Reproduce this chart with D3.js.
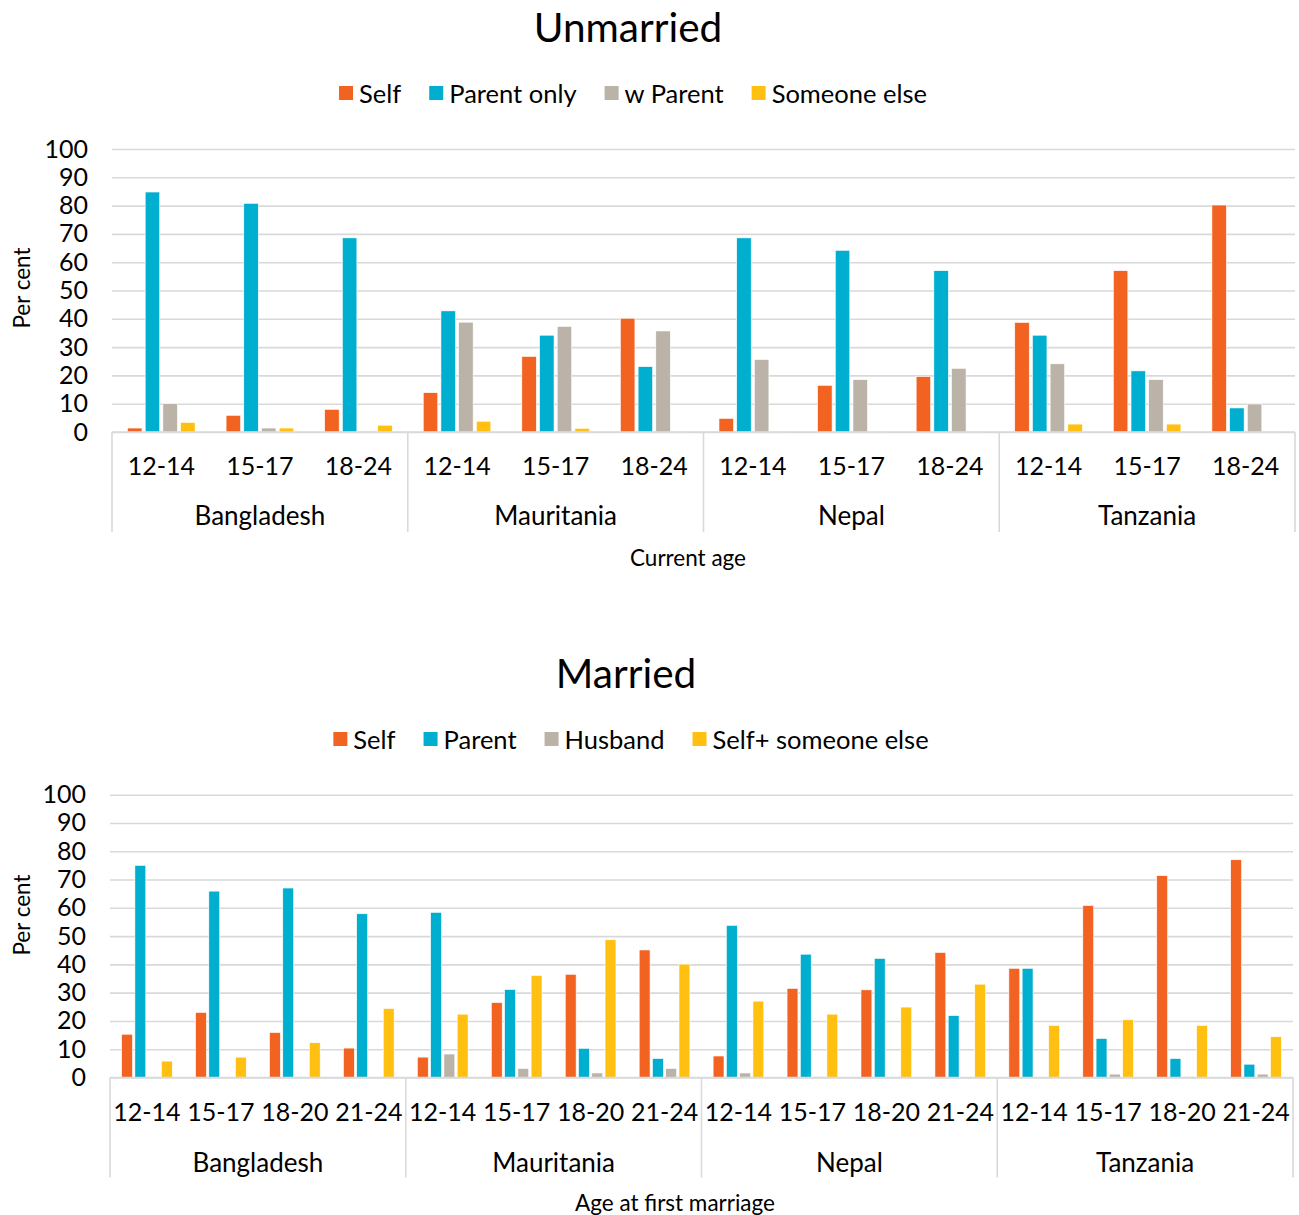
<!DOCTYPE html>
<html>
<head>
<meta charset="utf-8">
<script src="https://cdn.jsdelivr.net/npm/d3@7"></script>
<style>
  html, body { margin: 0; padding: 0; background: #fff; }
  svg { display: block; font-family: Lato, "Noto Sans", sans-serif; }
</style>
</head>
<body>
<svg id="chart" width="1299" height="1215"></svg>
<script>
// ---------- Data ----------
const countries = ["Bangladesh", "Mauritania", "Nepal", "Tanzania"];
const yTicks = [0, 10, 20, 30, 40, 50, 60, 70, 80, 90, 100];

// Unmarried (by current age)
const unmarriedAges = ["12-14", "15-17", "18-24"];
const unmarriedSeriesNames = ["Self", "Parent only", "w Parent", "Someone else"];
const unmarriedSelf        = [1.4, 5.9, 8.0,   13.9, 26.7, 40.2,  4.8, 16.5, 19.6,  38.7, 57.0, 80.2];
const unmarriedParentOnly  = [84.8, 80.8, 68.6, 42.8, 34.2, 23.1, 68.6, 64.2, 57.0, 34.2, 21.6, 8.5];
const unmarriedWParent     = [10.0, 1.4, 0.3,  38.8, 37.3, 35.7,  25.6, 18.5, 22.5, 24.1, 18.5, 9.9];
const unmarriedSomeoneElse = [3.4, 1.4, 2.4,   3.8, 1.3, 0.3,     0.3, 0.3, 0.3,    2.8, 2.8, 0.3];

// Married (by age at first marriage)
const marriedAges = ["12-14", "15-17", "18-20", "21-24"];
const marriedSeriesNames = ["Self", "Parent", "Husband", "Self+ someone else"];
const marriedSelf     = [15.3, 23.0, 15.9, 10.4,  7.2, 26.5, 36.5, 45.1,  7.6, 31.5, 31.0, 44.2,  38.6, 60.8, 71.4, 77.0];
const marriedParent   = [75.0, 65.9, 67.0, 57.9,  58.4, 31.1, 10.3, 6.7,  53.8, 43.6, 42.1, 21.9,  38.6, 13.8, 6.7, 4.7];
const marriedHusband  = [0.2, 0, 0.2, 0,          8.3, 3.2, 1.6, 3.2,     1.6, 0.3, 0, 0,         0, 1.2, 0.3, 1.2];
const marriedSelfPlus = [5.8, 7.2, 12.3, 24.4,    22.4, 36.1, 48.7, 40.1, 27.0, 22.4, 24.9, 33.0, 18.4, 20.4, 18.4, 14.4];

const colors = ["#F26322", "#00AECF", "#BBB3A8", "#FFC012"];

// ---------- Drawing ----------
const svg = d3.select("#chart");

function drawChart(cfg) {
  const g = svg.append("g");
  const { left, right, y0, y100, ages, seriesNames, seriesValues } = cfg;

  // Title
  g.append("text")
    .attr("x", cfg.titleX).attr("y", cfg.titleY)
    .attr("text-anchor", "middle").attr("dominant-baseline", "central")
    .attr("font-size", 40.5).attr("fill", "#000")
    .text(cfg.title);

  // Legend
  const leg = g.append("g");
  let lx = 0;
  const gap = 28;
  seriesNames.forEach((name, i) => {
    const item = leg.append("g").attr("transform", `translate(${lx},0)`);
    item.append("rect").attr("x", 0).attr("y", -7).attr("width", 14).attr("height", 14).attr("fill", colors[i]);
    const t = item.append("text").attr("x", 20).attr("y", 0)
      .attr("dominant-baseline", "central").attr("font-size", 25.5).attr("fill", "#000").text(name);
    lx += 20 + t.node().getComputedTextLength() + gap;
  });
  const legW = lx - gap;
  leg.attr("transform", `translate(${cfg.legendCX - legW / 2},${cfg.legendY})`);

  // Scales
  const y = d3.scaleLinear().domain([0, 100]).range([y0, y100]);
  const xCountry = d3.scaleBand().domain(countries).range([left, right]).padding(0);
  const xAge = d3.scaleBand().domain(ages).range([0, xCountry.bandwidth()]).padding(0);
  const cluster = xAge.bandwidth() * 0.718;
  const xSeries = d3.scaleBand().domain(seriesNames)
    .range([(xAge.bandwidth() - cluster) / 2, (xAge.bandwidth() + cluster) / 2])
    .paddingInner(0.18).paddingOuter(0.09);

  // Gridlines + y tick labels
  const yAxis = d3.axisLeft(y).tickValues(yTicks).tickSizeInner(-(right - left)).tickSizeOuter(0).tickPadding(24);
  const ya = g.append("g").attr("transform", `translate(${left},0)`).call(yAxis);
  ya.select(".domain").remove();
  ya.selectAll(".tick line").attr("stroke", "#d9d9d9").attr("stroke-width", 1.6);
  ya.selectAll(".tick text").attr("font-size", 25).attr("fill", "#000").attr("font-family", "Lato, sans-serif");

  // Y title
  g.append("text")
    .attr("transform", `translate(${cfg.yTitleX},${cfg.yTitleY}) rotate(-90)`)
    .attr("text-anchor", "middle").attr("dominant-baseline", "central")
    .attr("font-size", 22.5).attr("fill", "#000").text("Per cent");

  // Bars
  const rows = [];
  countries.forEach((c, ci) => {
    ages.forEach((a, ai) => {
      seriesNames.forEach((s, si) => {
        rows.push({ c, a, s, si, v: seriesValues[si][ci * ages.length + ai] });
      });
    });
  });
  g.append("g").selectAll("rect").data(rows).join("rect")
    .attr("x", d => xCountry(d.c) + xAge(d.a) + xSeries(d.s))
    .attr("width", xSeries.bandwidth())
    .attr("y", d => y(d.v))
    .attr("height", d => Math.max(0, y0 - y(d.v)))
    .attr("fill", d => colors[d.si])
    .attr("stroke", "#fff").attr("stroke-width", 0.6);

  // Category axis: baseline and separators
  const ax = g.append("g");
  ax.append("line").attr("x1", left).attr("x2", right).attr("y1", y0).attr("y2", y0)
    .attr("stroke", "#d9d9d9").attr("stroke-width", 1.6);
  const bounds = countries.map(c => xCountry(c)).concat([right]);
  ax.selectAll("line.sep").data(bounds).join("line").attr("class", "sep")
    .attr("x1", d => d).attr("x2", d => d).attr("y1", y0).attr("y2", y0 + cfg.sepLen)
    .attr("stroke", "#d9d9d9").attr("stroke-width", 1.6);

  // Age labels
  const ageRows = [];
  countries.forEach(c => ages.forEach(a => ageRows.push({ c, a })));
  ax.selectAll("text.age").data(ageRows).join("text").attr("class", "age")
    .attr("x", d => xCountry(d.c) + xAge(d.a) + xAge.bandwidth() / 2)
    .attr("y", y0 + cfg.ageDy)
    .attr("text-anchor", "middle").attr("dominant-baseline", "central")
    .attr("font-size", 25).attr("fill", "#000").text(d => d.a);

  // Country labels
  ax.selectAll("text.country").data(countries).join("text").attr("class", "country")
    .attr("x", d => xCountry(d) + xCountry.bandwidth() / 2)
    .attr("y", y0 + cfg.countryDy)
    .attr("text-anchor", "middle").attr("dominant-baseline", "central")
    .attr("font-size", 26).attr("fill", "#000").text(d => d);

  // X title
  g.append("text")
    .attr("x", cfg.xTitleX).attr("y", cfg.xTitleY)
    .attr("text-anchor", "middle").attr("dominant-baseline", "central")
    .attr("font-size", 22.5).attr("fill", "#000").text(cfg.xTitle);
}

drawChart({
  title: "Unmarried", titleX: 628, titleY: 26,
  legendCX: 633, legendY: 93,
  left: 112, right: 1295, y0: 432, y100: 149,
  ages: unmarriedAges, seriesNames: unmarriedSeriesNames,
  seriesValues: [unmarriedSelf, unmarriedParentOnly, unmarriedWParent, unmarriedSomeoneElse],
  yTitleX: 21, yTitleY: 288,
  sepLen: 100, ageDy: 33, countryDy: 83,
  xTitle: "Current age", xTitleX: 688, xTitleY: 557
});

drawChart({
  title: "Married", titleX: 626, titleY: 672,
  legendCX: 631, legendY: 739,
  left: 110, right: 1293, y0: 1077.5, y100: 794.7,
  ages: marriedAges, seriesNames: marriedSeriesNames,
  seriesValues: [marriedSelf, marriedParent, marriedHusband, marriedSelfPlus],
  yTitleX: 21, yTitleY: 915,
  sepLen: 100, ageDy: 33, countryDy: 84,
  xTitle: "Age at first marriage", xTitleX: 675, xTitleY: 1202
});
</script>
</body>
</html>
